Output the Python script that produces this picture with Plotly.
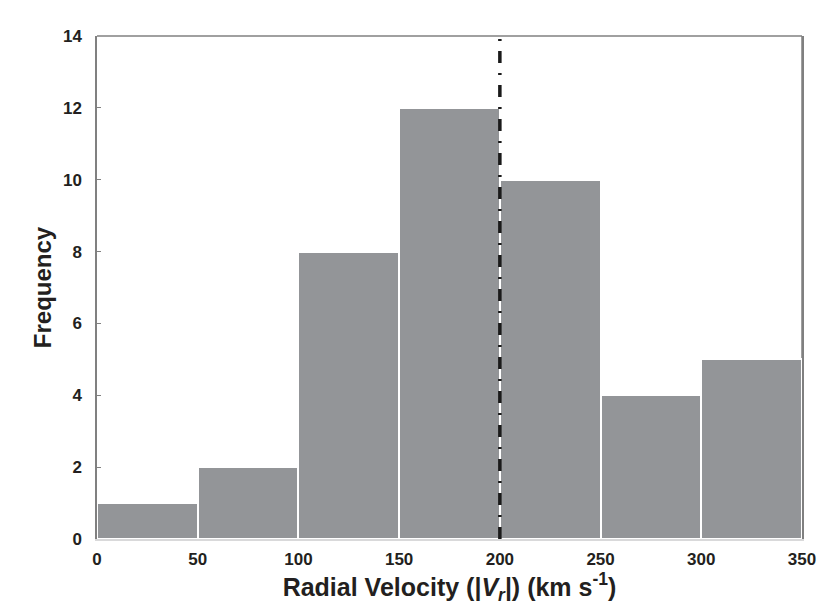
import plotly.graph_objects as go

# Histogram bins (km/s) and counts
bin_left = [0, 50, 100, 150, 200, 250, 300]
bin_width = 50
counts = [1, 2, 8, 12, 10, 4, 5]
y_ticks = [0, 2, 4, 6, 8, 10, 12, 14]
x_ticks = [0, 50, 100, 150, 200, 250, 300, 350]
mean_velocity = 200

centers = [b + bin_width / 2 for b in bin_left]

fig = go.Figure()
fig.add_trace(go.Bar(
    x=centers, y=counts, width=[bin_width] * len(counts),
    marker=dict(color="#939598", line=dict(color="white", width=2)),
    showlegend=False,
))

# vertical dash-dot line at 200
fig.add_trace(go.Scatter(
    x=[mean_velocity, mean_velocity], y=[0, 14], mode="lines",
    line=dict(color="#1a1a1a", width=3.5, dash="12px,10px,2px,10px"),
    showlegend=False,
))

family = "Liberation Sans, Arial, sans-serif"
ink = "#231f20"

# page body adds an 8px offset, so the figure is a bit smaller than the window
fig.update_layout(
    width=822, height=603,
    margin=dict(l=89, r=28, t=28, b=72),
    plot_bgcolor="white", paper_bgcolor="white",
    font=dict(family=family, color=ink),
    bargap=0,
)
fig.update_xaxes(
    range=[0, 350], tickvals=x_ticks, ticks="", showgrid=False, zeroline=False,
    showline=True, linecolor="#d9d9da", linewidth=2, mirror=False,
    tickfont=dict(size=17, family=family, color=ink, weight="bold"),
    ticklabelstandoff=4,
    title=dict(text="<b>Radial Velocity (|<i>V<sub>r</sub></i>|) (km s<sup>-1</sup>)</b>",
               font=dict(size=25, family=family, color=ink), standoff=2),
)
fig.update_yaxes(
    range=[0, 14], tickvals=y_ticks, ticks="inside", ticklen=4, tickcolor="#808080",
    showgrid=False, zeroline=False,
    showline=True, linecolor="#808080", linewidth=1.5, mirror=True,
    tickfont=dict(size=17, family=family, color=ink, weight="bold"),
    ticklabelstandoff=10,
    title=dict(text="<b>Frequency</b>", font=dict(size=24, family=family, color=ink),
               standoff=5),
)

# top/right frame in gray
fig.add_shape(type="line", xref="paper", yref="paper", x0=0, x1=1, y0=1, y1=1,
              line=dict(color="#808080", width=1.5))
fig.add_shape(type="line", xref="paper", yref="paper", x0=1, x1=1, y0=0, y1=1,
              line=dict(color="#808080", width=1.5), layer="below")

fig.write_html("out.html")
